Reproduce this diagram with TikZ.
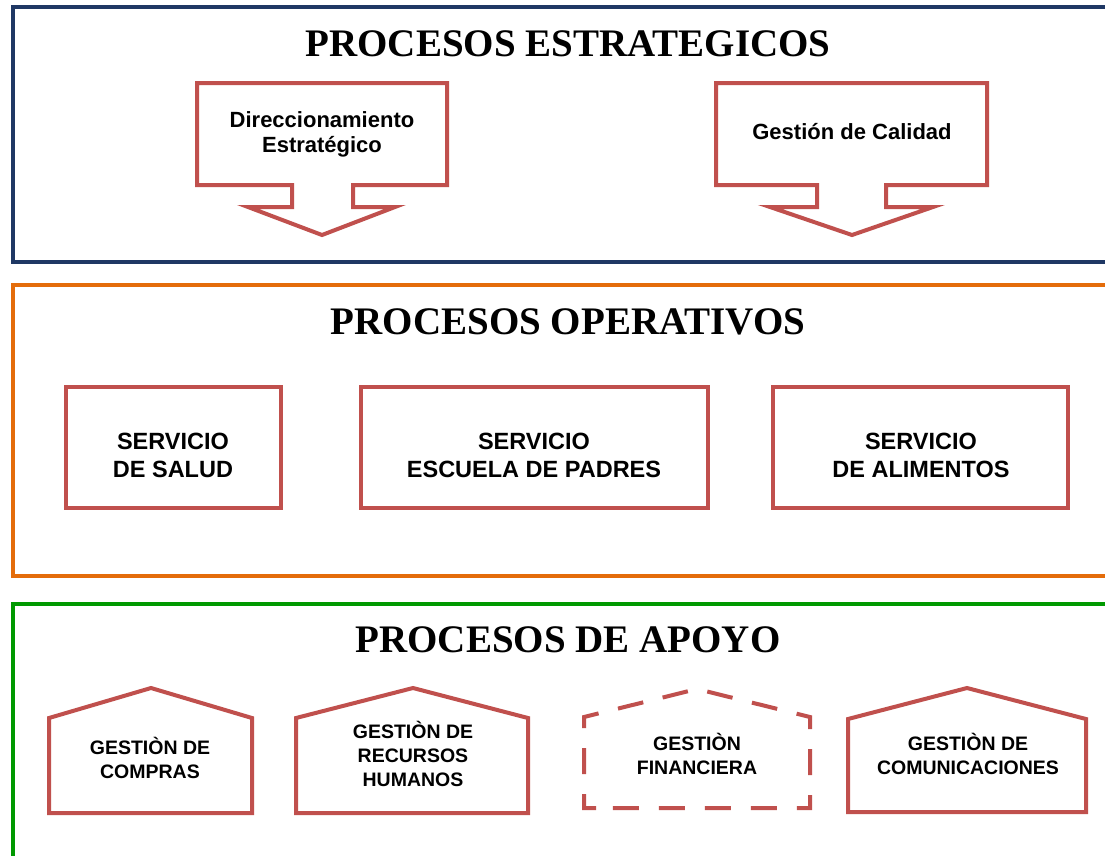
\documentclass[tikz,border=0pt]{standalone}
\usepackage{fontspec}
\setmainfont{Liberation Serif}
\newfontfamily\arialfont{Liberation Sans}
\definecolor{bluebox}{RGB}{31,56,100}
\definecolor{orangebox}{RGB}{228,108,10}
\definecolor{greenbox}{RGB}{0,153,0}
\definecolor{redline}{RGB}{192,80,77}
\begin{document}
\begin{tikzpicture}[x=1pt,y=-1pt,
  section/.style={line width=4.5pt},
  titletext/.style={font=\bfseries\fontsize{39}{47}\selectfont, inner sep=0pt},
  redbox/.style={draw=redline, line width=4.5pt, line join=miter},
  callout/.style={draw=redline, line width=4pt, line join=miter},
  house/.style={draw=redline, line width=4pt, line join=miter},
  dashedhouse/.style={house, dash pattern=on 26pt off 20pt},
  optext/.style={font=\arialfont\bfseries\fontsize{23.5}{28}\selectfont, align=center, inner sep=0pt},
  caltext/.style={font=\arialfont\bfseries\fontsize{22}{25}\selectfont, align=center, inner sep=0pt},
  housetext/.style={font=\arialfont\bfseries\fontsize{19.5}{24}\selectfont, align=center, inner sep=0pt}
]
\useasboundingbox (0,0) rectangle (1105,855);
\clip (0,0) rectangle (1105,855);
\fill[white] (0,0) rectangle (1105,855);

% section frames
\draw[section, draw=bluebox] (13,7) rectangle (1125,262);
\draw[section, draw=orangebox] (13,285) rectangle (1125,576);
\draw[section, draw=greenbox] (13,604) rectangle (1125,858);

% titles
\node[titletext] (t1) at (568,44) {PROCESOS ESTRATEGICOS};
\node[titletext] (t2) at (568,322) {PROCESOS OPERATIVOS};
\node[titletext] (t3) at (568,640) {PROCESOS DE APOYO};

% strategic callouts
\draw[callout] (197,83) -- (447,83) -- (447,185) -- (353,185) -- (353,207) -- (395,207)
  -- (322,235) -- (248,207) -- (292,207) -- (292,185) -- (197,185) -- cycle;
\node[caltext] (c1) at (322,134) {Direccionamiento\\Estratégico};
\draw[callout] (716,83) -- (987,83) -- (987,185) -- (886,185) -- (886,207) -- (933,207)
  -- (852,235) -- (770,207) -- (817,207) -- (817,185) -- (716,185) -- cycle;
\node[caltext] (c2) at (852,132) {Gestión de Calidad};

% operative boxes
\draw[redbox] (66,387) rectangle (281,508);
\node[optext] (o1) at (173,455) {SERVICIO\\DE SALUD};
\draw[redbox] (361,387) rectangle (708,508);
\node[optext] (o2) at (534,455) {SERVICIO\\ESCUELA DE PADRES};
\draw[redbox] (773,387) rectangle (1068,508);
\node[optext] (o3) at (921,455) {SERVICIO\\DE ALIMENTOS};

% support houses
\draw[house] (49,813) -- (49,718) -- (151,688) -- (252,718) -- (252,813) -- cycle;
\node[housetext] (a1) at (150,758) {GESTIÒN DE\\COMPRAS};
\draw[house] (296,813) -- (296,718) -- (413,688) -- (528,718) -- (528,813) -- cycle;
\node[housetext] (a2) at (413,754) {GESTIÒN DE\\RECURSOS\\HUMANOS};
\draw[dashedhouse] (596,808) -- (584,808) -- (584,717) -- (697,689) -- (810,717) -- (810,808) -- cycle;
\node[housetext] (a3) at (697,754) {GESTIÒN\\FINANCIERA};
\draw[house] (848,812) -- (848,719) -- (967,688) -- (1086,719) -- (1086,812) -- cycle;
\node[housetext] (a4) at (968,754) {GESTIÒN DE\\COMUNICACIONES};
\end{tikzpicture}
\end{document}
